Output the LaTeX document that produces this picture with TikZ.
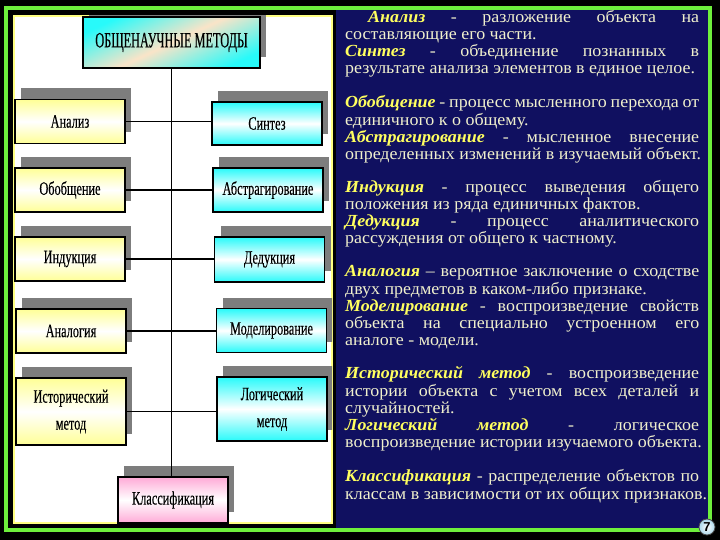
\documentclass[tikz,border=0pt]{standalone}
\usepackage{fontspec}
\setmainfont{Liberation Serif}[FakeStretch=1.06]
\setsansfont{Liberation Sans}
\newfontfamily\boxfont[FakeStretch=0.65, FakeBold=0.25]{Liberation Serif}
\newfontfamily\headfont[FakeStretch=0.56, FakeBold=0.4]{Liberation Serif}
\usetikzlibrary{shadows}
\hyphenpenalty=10000
\exhyphenpenalty=10000
\tolerance=10000
\hfuzz=20pt
\setlength{\parindent}{0pt}

\definecolor{framegreen}{RGB}{110,240,60}
\definecolor{navy}{RGB}{16,16,96}
\definecolor{panelyellow}{RGB}{255,255,130}
\definecolor{shadowgray}{RGB}{125,125,125}
\definecolor{boxyellow}{RGB}{255,255,150}
\definecolor{boxcyan}{RGB}{40,250,250}
\definecolor{boxpink}{RGB}{255,170,215}
\definecolor{titlepeach}{RGB}{250,228,200}
\definecolor{textcream}{RGB}{240,240,205}
\definecolor{termyellow}{RGB}{255,255,95}
\definecolor{pageblue}{RGB}{170,215,235}

\newcommand{\term}[1]{\textcolor{termyellow}{\textbf{\itshape #1}}}

\tikzset{
  methodbox/.style={draw, line width=1.2bp, inner sep=2bp, minimum width=110bp,
    minimum height=44bp, align=center, font=\boxfont\fontsize{19}{27}\selectfont,
    drop shadow={shadow xshift=6bp, shadow yshift=11bp, fill=shadowgray, opacity=1}},
  leftbox/.style={methodbox, top color=boxyellow, bottom color=boxyellow, middle color=white},
  rightbox/.style={methodbox, top color=boxcyan, bottom color=boxcyan, middle color=white},
  classbox/.style={methodbox, top color=boxpink, bottom color=boxpink, middle color=white},
  headbox/.style={methodbox, minimum width=177bp, minimum height=51bp,
    font=\headfont\fontsize{22}{22}\selectfont,
    top color=boxcyan, bottom color=boxcyan, middle color=titlepeach, shading angle=25},
  link/.style={line width=1.6bp},
  trunk/.style={line width=1.2bp},
  deftext/.style={anchor=north west, inner sep=0pt, text width=354bp, align=justify,
    text=textcream, font=\fontsize{17}{17}\selectfont},
  pagemark/.style={circle, draw=black!70, line width=0.8bp, minimum size=16bp, inner sep=0pt,
    inner color=white, outer color=pageblue, font=\sffamily\bfseries\fontsize{13}{13}\selectfont}
}

\begin{document}
\begin{tikzpicture}[x=1bp, y=-1bp]
\useasboundingbox (0,0) rectangle (720,540);
\fill[black] (0,0) rectangle (720,540);
\fill[navy] (6,8) rectangle (710,530);
\fill[black] (6,8) rectangle (336,530);
\draw[framegreen, line width=4bp] (6,8) rectangle (710,530);
\draw[panelyellow, line width=1.5bp, fill=white] (14,16) rectangle (332,523);

% схема методов
\begin{scope}
\clip (14,16) rectangle (332,523);
\node[headbox] (title) at (171.5,42.5) {ОБЩЕНАУЧНЫЕ МЕТОДЫ};
\node[leftbox] (anal) at (70,121.5) {Анализ};
\node[leftbox] (obob) at (70,190) {Обобщение};
\node[leftbox] (induk) at (70,259) {Индукция};
\node[leftbox] (analog) at (71,331) {Аналогия};
\node[leftbox, minimum height=67bp] (hist) at (71,411.5) {Исторический\\метод};
\node[rightbox, minimum height=43bp] (sint) at (267,123.5) {Синтез};
\node[rightbox] (abstr) at (268,190) {Абстрагирование};
\node[rightbox, minimum height=45bp] (deduk) at (269.5,259.5) {Дедукция};
\node[rightbox] (model) at (271.5,330.5) {Моделирование};
\node[rightbox, minimum height=64bp] (logic) at (272,409) {Логический\\метод};
\node[classbox, minimum height=46bp] (klass) at (173,500) {Классификация};
\draw[trunk] (title.south) -- (title.south |- klass.north);
\foreach \l/\r in {anal/sint, obob/abstr, induk/deduk, analog/model, hist/logic}
  \draw[link] (\l.east) -- (\l.east -| \r.west);
\end{scope}

% определения
\node[deftext] (defanaliz) at (345,10.1) {\strut\hspace*{23bp}\term{Анализ} - разложение объекта на\linebreak
  составляющие его части.\par
  \term{Синтез} - объединение познанных в\linebreak
  \mbox{результате анализа элементов в единое целое.}};
\node[deftext] (defobob) at (345,95.1) {\strut\term{Обобщение} - процесс мысленного перехода от\linebreak
  единичного к о общему.\par
  \term{Абстрагирование} - мысленное внесение\linebreak
  \mbox{определенных изменений в изучаемый объект.}};
\node[deftext] (definduk) at (345,180.1) {\strut\term{Индукция} - процесс выведения общего\linebreak
  положения из ряда единичных фактов.\par
  \term{Дедукция} - процесс аналитического\linebreak
  рассуждения от общего к частному.};
\node[deftext] (defanalog) at (345,264.1) {\strut\term{Аналогия} – вероятное заключение о сходстве\linebreak
  двух предметов в каком-либо признаке.\par
  \term{Моделирование} - воспроизведение свойств\linebreak
  объекта на специально устроенном его\linebreak
  аналоге - модели.};
\node[deftext] (defhist) at (345,366.1) {\strut\term{Исторический метод} - воспроизведение\linebreak
  истории объекта с учетом всех деталей и\linebreak
  случайностей.\par
  \term{Логический метод} - логическое\linebreak
  \mbox{воспроизведение истории изучаемого объекта.}};
\node[deftext] (defklass) at (345,469.1) {\strut\term{Классификация} - распределение объектов по\linebreak
  \mbox{классам в зависимости от их общих признаков.}};

\node[pagemark] (pgno) at (707,527) {7};
\end{tikzpicture}
\end{document}
